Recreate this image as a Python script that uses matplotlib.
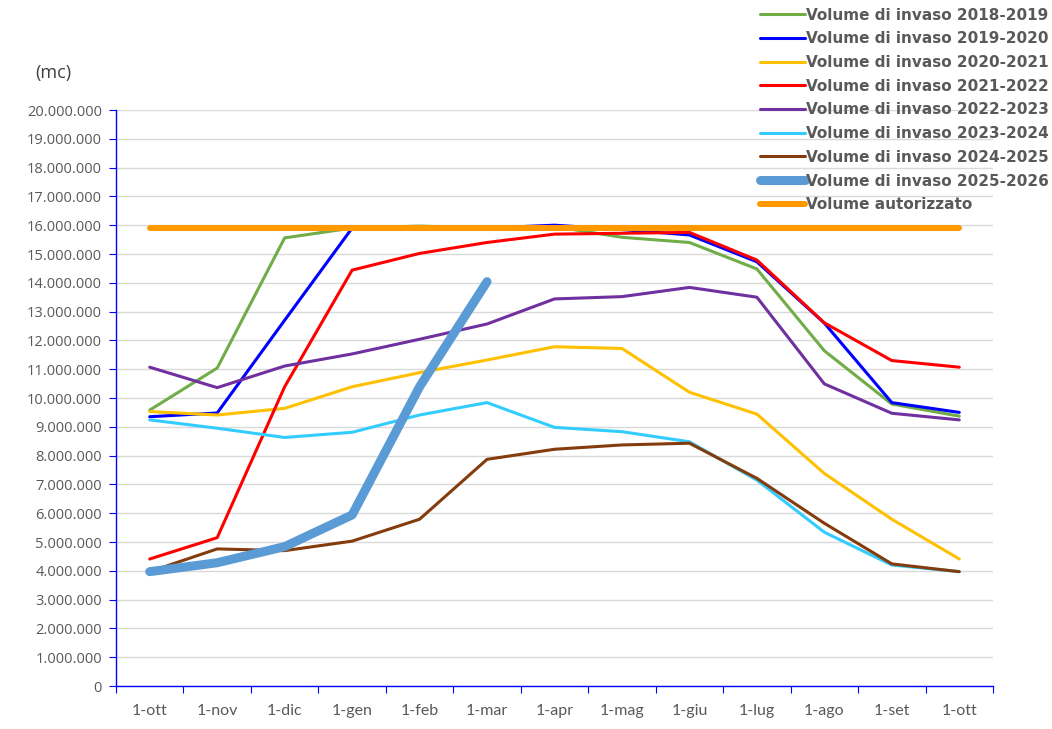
import numpy as np
import matplotlib
matplotlib.use("Agg")
from matplotlib import pyplot as plt
from matplotlib.ticker import FuncFormatter, FixedLocator

mesi = ["1-ott", "1-nov", "1-dic", "1-gen", "1-feb", "1-mar", "1-apr",
        "1-mag", "1-giu", "1-lug", "1-ago", "1-set", "1-ott"]

# volumi in milioni di mc
v_2018_2019 = [9.58, 11.04, 15.56, 15.90, 15.97, 15.90, 15.95, 15.58, 15.40, 14.48, 11.64, 9.79, 9.37]
v_2019_2020 = [9.35, 9.48, 12.70, 15.90, 15.90, 15.90, 16.00, 15.85, 15.66, 14.73, 12.60, 9.84, 9.50]
v_2020_2021 = [9.53, 9.41, 9.64, 10.39, 10.88, 11.32, 11.78, 11.72, 10.20, 9.44, 7.38, 5.79, 4.41]
v_2021_2022 = [4.41, 5.15, 10.39, 14.44, 15.02, 15.40, 15.69, 15.72, 15.75, 14.79, 12.61, 11.30, 11.07]
v_2022_2023 = [11.07, 10.36, 11.11, 11.53, 12.04, 12.57, 13.44, 13.52, 13.84, 13.50, 10.49, 9.47, 9.24]
v_2023_2024 = [9.24, 8.95, 8.63, 8.81, 9.41, 9.84, 8.98, 8.83, 8.48, 7.15, 5.34, 4.20, 3.97]
v_2024_2025 = [3.97, 4.76, 4.70, 5.03, 5.79, 7.87, 8.22, 8.37, 8.43, 7.21, 5.65, 4.24, 3.97]
v_2025_2026 = [3.97, 4.28, 4.84, 5.94, 10.39, 14.04]
v_autorizzato = [15.90] * 13

serie = [
    ("Volume di invaso 2018-2019", v_2018_2019, "#70AD47", 2.2),
    ("Volume di invaso 2019-2020", v_2019_2020, "#0000FF", 2.2),
    ("Volume di invaso 2020-2021", v_2020_2021, "#FFC000", 2.2),
    ("Volume di invaso 2021-2022", v_2021_2022, "#FF0000", 2.2),
    ("Volume di invaso 2022-2023", v_2022_2023, "#7030A0", 2.2),
    ("Volume di invaso 2023-2024", v_2023_2024, "#33CCFF", 2.2),
    ("Volume di invaso 2024-2025", v_2024_2025, "#843C0C", 2.2),
    ("Volume di invaso 2025-2026", v_2025_2026, "#5B9BD5", 6.5),
    ("Volume autorizzato", v_autorizzato, "#FF9900", 4.3),
]

fig = plt.figure(figsize=(10.52, 7.29), dpi=100)
ax = fig.add_axes([116/1052, 1 - 686/729, (993-116)/1052, (686-110)/729])

for nome, vals, col, lw in serie:
    x = np.arange(len(vals))
    ax.plot(x, np.array(vals) * 1e6, color=col, linewidth=lw, label=nome,
            solid_capstyle="round", solid_joinstyle="round")

ax.set_xlim(-0.5, 12.5)
ax.set_ylim(0, 20e6)
ax.set_yticks(np.arange(0, 20e6 + 1, 1e6))
ax.yaxis.set_major_formatter(FuncFormatter(lambda v, p: f"{int(round(v)):,}".replace(",", ".")))
ax.grid(axis="y", color="#D9D9D9", linewidth=1)
ax.set_axisbelow(True)

ax.xaxis.set_major_locator(FixedLocator(np.arange(-0.5, 13, 1)))
ax.xaxis.set_minor_locator(FixedLocator(np.arange(13)))
ax.set_xticklabels([], minor=False)
ax.set_xticklabels(mesi, minor=True)
ax.tick_params(axis="x", which="major", length=5, color="#0000FF", direction="out")
ax.tick_params(axis="x", which="minor", length=0, pad=13, labelsize=11.5, labelcolor="#595959")
ax.tick_params(axis="y", length=5, color="#0000FF", direction="out", labelsize=10.5,
               labelcolor="#595959", pad=5)
for lab in ax.get_xticklabels(minor=True):
    lab.set_fontfamily("Lato")
for lab in ax.get_yticklabels():
    lab.set_fontfamily("Open Sans")

for s in ["top", "right"]:
    ax.spines[s].set_visible(False)
for s in ["left", "bottom"]:
    ax.spines[s].set_color("#0000FF")
    ax.spines[s].set_linewidth(1)

fig.text(35/1052, 1 - 73/729, "(mc)", fontsize=13, color="#404040",
         family="Open Sans", va="center")

leg = fig.legend(loc="upper right", bbox_to_anchor=(1.003, 0.998), frameon=False,
                 prop={"family": "DejaVu Sans", "weight": "bold", "size": 11},
                 handlelength=2.9, handletextpad=0.1, labelspacing=0.57, borderaxespad=0)
for t in leg.get_texts():
    t.set_color("#595959")

fig.savefig("out.png", dpi=100)
